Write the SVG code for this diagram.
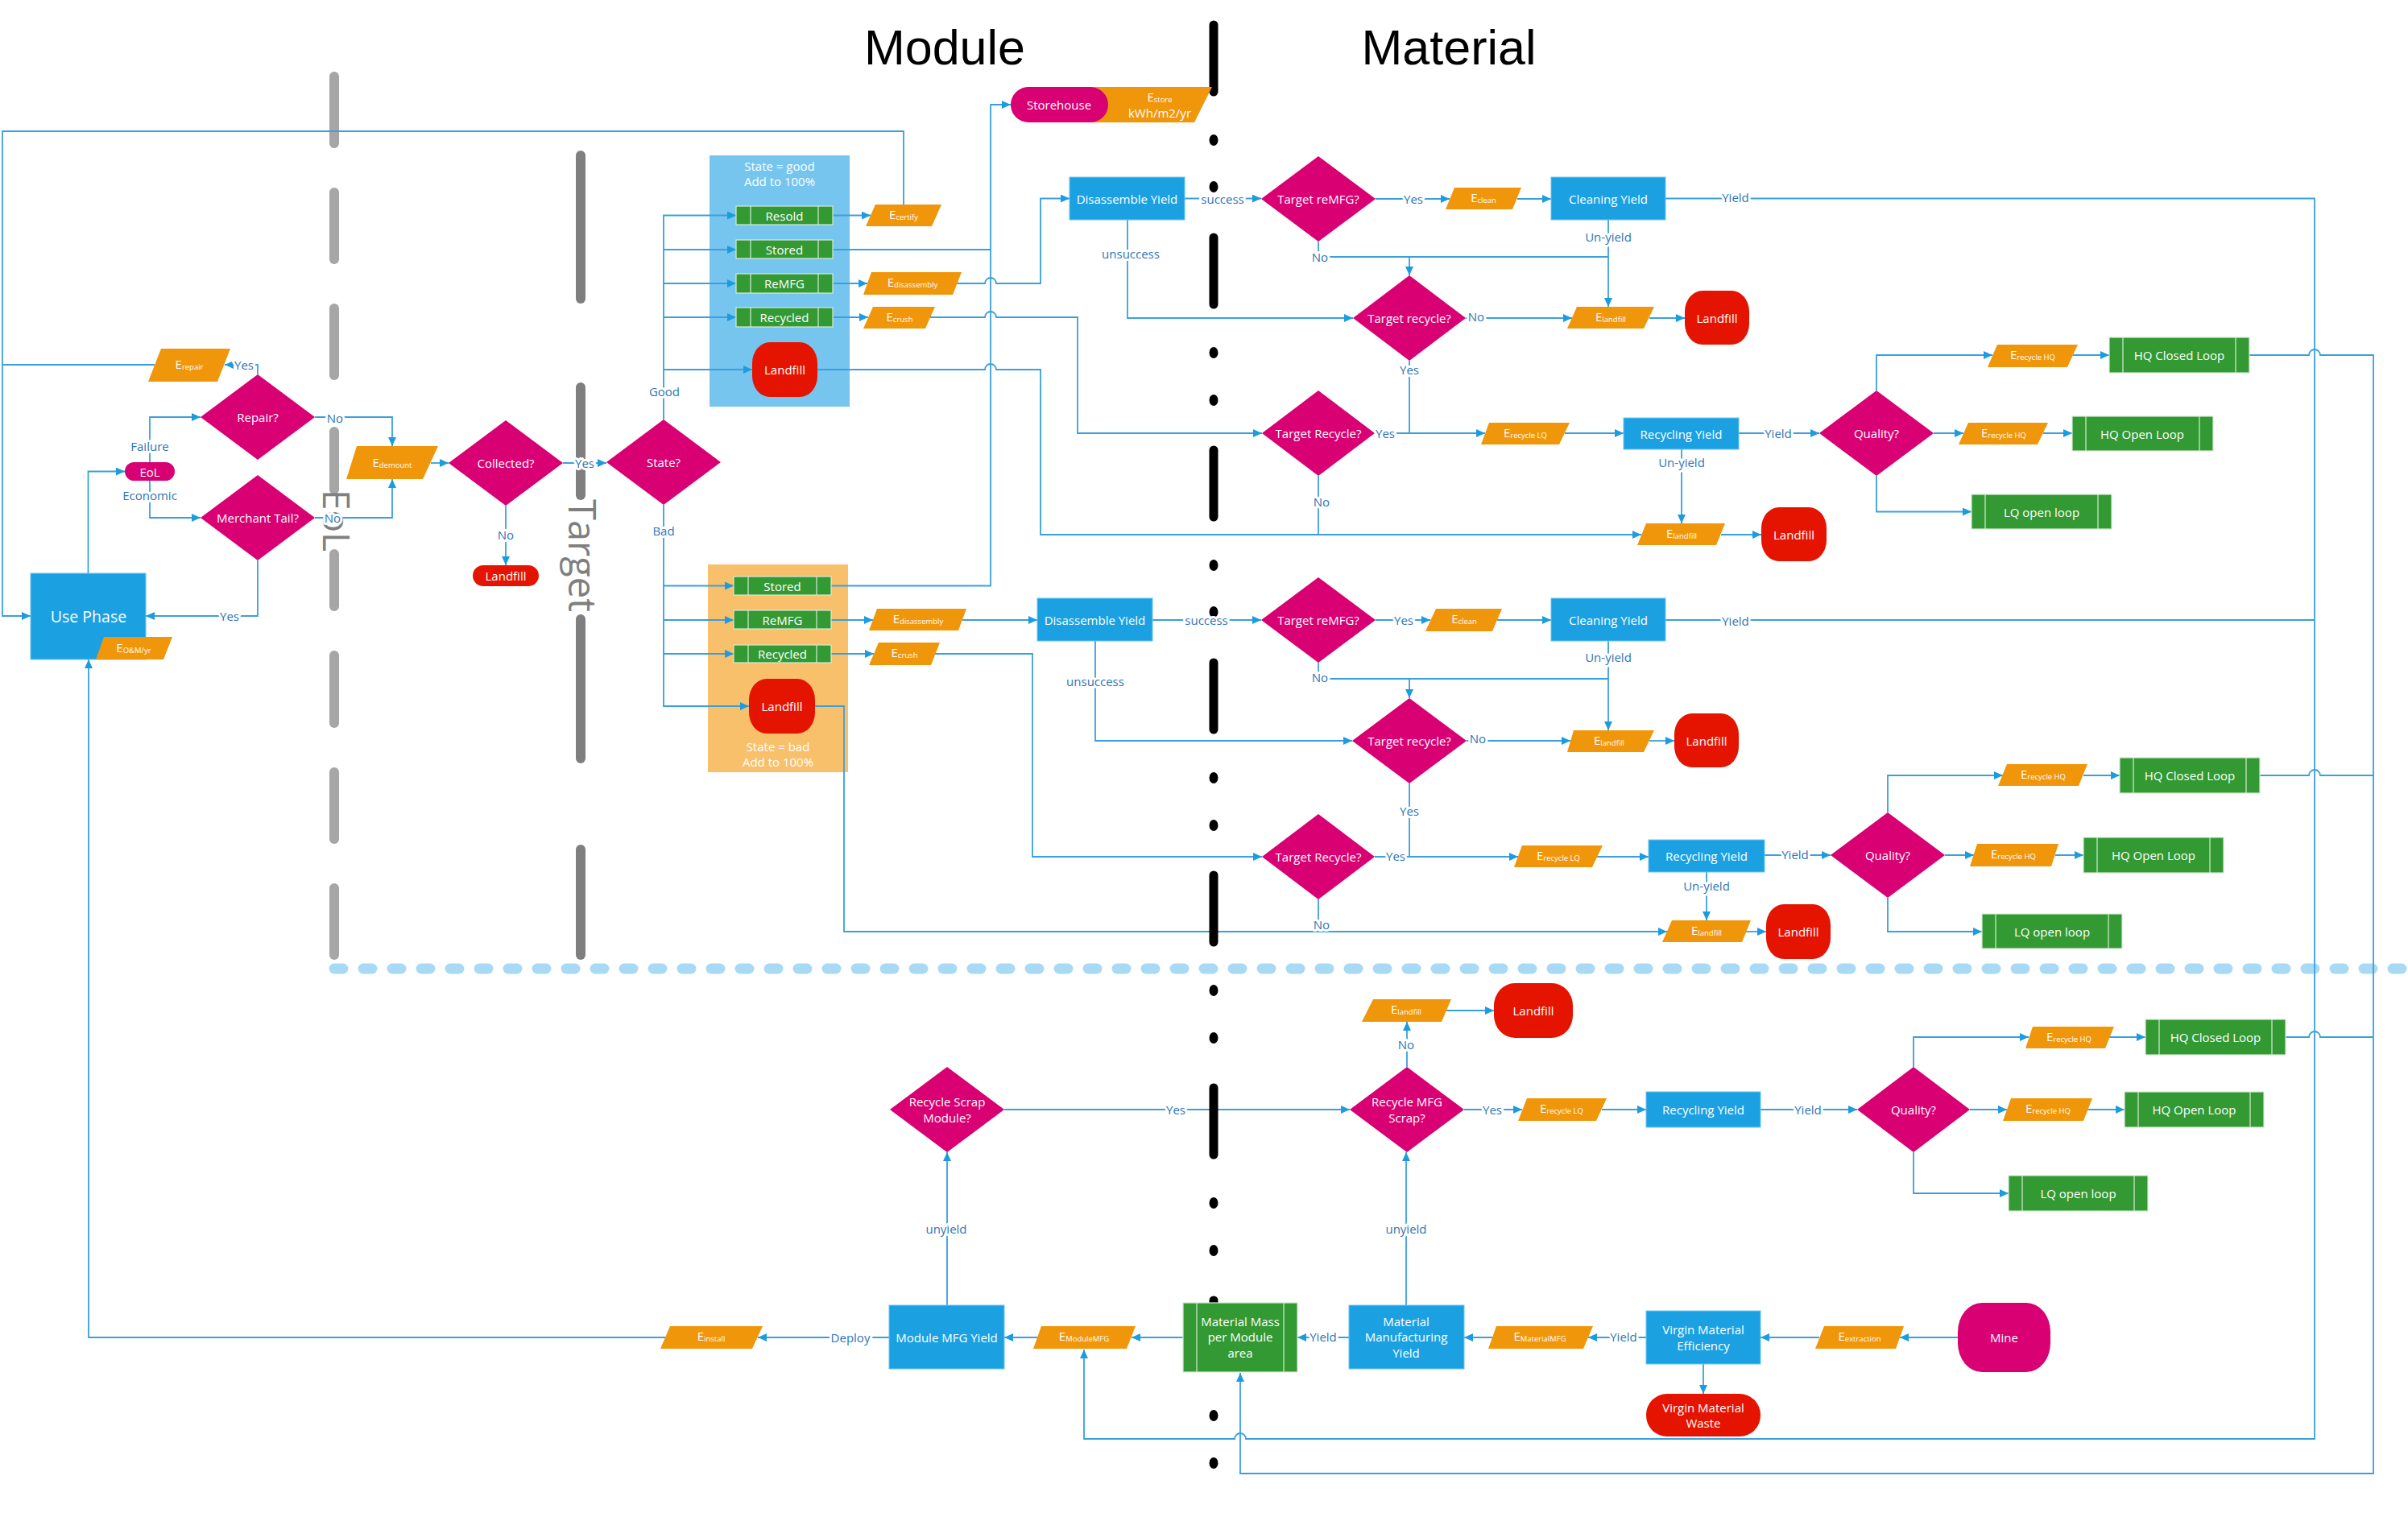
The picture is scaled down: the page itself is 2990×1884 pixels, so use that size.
<svg xmlns="http://www.w3.org/2000/svg" width="2990" height="1884" viewBox="0 0 2990 1884">
<defs>
<marker id="ah" markerWidth="11" markerHeight="10" refX="11" refY="5" orient="auto" markerUnits="userSpaceOnUse"><path d="M0,0 L11,5 L0,10 z" fill="#1b9ce0"/></marker>
<style>
.bl{fill:#1ba1e2;stroke:#6cc4ee;stroke-width:1}
.mg{fill:#d80073}
.or{fill:#f0960a}
.gr{fill:#339933;stroke:#d6ecd6;stroke-width:1.2}
.gl{stroke:#d6ecd6;stroke-width:1.2}
.rd{fill:#e51400}
.t{font-family:"Open Sans","Noto Sans",sans-serif;font-size:15px;fill:#fff;text-anchor:middle;dominant-baseline:central}
.big{font-size:19.5px}
.s{font-size:9.5px}
.lb{font-family:"Open Sans","Noto Sans",sans-serif;font-size:15px;fill:#2e75b6;text-anchor:middle;dominant-baseline:central;stroke:#fff;stroke-width:6;stroke-linejoin:round;paint-order:stroke}
.ln{fill:none;stroke:#3aa0dc;stroke-width:1.8}
.a{marker-end:url(#ah)}
.eol{stroke:#a6a6a6;stroke-width:12;stroke-linecap:round}
.tg{stroke:#7f7f7f;stroke-width:12;stroke-linecap:round}
.dv{stroke:#000;stroke-width:11;stroke-linecap:round}
.ttl{font-family:"Liberation Sans",Arial,sans-serif;font-size:61px;fill:#000;text-anchor:middle}
.rot{font-family:"Open Sans","Noto Sans",sans-serif;fill:#7f7f7f;text-anchor:middle}
</style>
</defs>
<rect width="2990" height="1884" fill="#fff"/>

<g id="titles">
<text class="ttl" x="1173" y="80">Module</text>
<text class="ttl" x="1799" y="80">Material</text>
</g>

<g id="dividers">
<line x1="415" y1="1203" x2="2990" y2="1203" stroke="#a8daf5" stroke-width="13" stroke-linecap="round" stroke-dasharray="11 25"/>
<g class="eol">
<line x1="415" y1="95" x2="415" y2="178"/><line x1="415" y1="239" x2="415" y2="322"/><line x1="415" y1="383" x2="415" y2="466"/><line x1="415" y1="536" x2="415" y2="608"/><line x1="415" y1="688" x2="415" y2="753"/><line x1="415" y1="814" x2="415" y2="898"/><line x1="415" y1="959" x2="415" y2="1042"/><line x1="415" y1="1103" x2="415" y2="1186"/>
</g>
<g class="tg">
<line x1="721" y1="193" x2="721" y2="371"/><line x1="721" y1="481" x2="721" y2="615"/><line x1="721" y1="769" x2="721" y2="942"/><line x1="721" y1="1055" x2="721" y2="1186"/>
</g>
<text class="rot" font-size="46" transform="translate(401,646.5) rotate(90)">EoL</text>
<text class="rot" font-size="47" transform="translate(706,690) rotate(90)">Target</text>
</g>

<g id="containers">
<rect x="881" y="193" width="174" height="312" fill="#75c5ef"/>
<text class="t" x="968" y="206">State = good</text>
<text class="t" x="968" y="225">Add to 100%</text>
<rect x="879" y="701" width="174" height="258" fill="#f8c06b"/>
<text class="t" x="966" y="927">State = bad</text>
<text class="t" x="966" y="946">Add to 100%</text>
</g>

<g id="connectors">
<path class="ln a" d="M109.5,712 V585.5 H155"/>
<path class="ln a" d="M186,574 V518 H249"/>
<path class="ln a" d="M186,597 V643 H249"/>
<path class="ln a" d="M320,465 V453 H279"/>
<path class="ln" d="M192,453 H3"/>
<path class="ln a" d="M1122,254 V163 H3 V765 H38"/>
<path class="ln a" d="M391,518 H487 V554"/>
<path class="ln a" d="M391,643 H487 V595"/>
<path class="ln a" d="M320,696 V765 H181"/>
<path class="ln a" d="M535,575 H557"/>
<path class="ln a" d="M699,575 H753"/>
<path class="ln a" d="M628,628 V702"/>
<path class="ln a" d="M824,521 V267.5 H914"/>
<path class="ln a" d="M824,310 H914"/>
<path class="ln a" d="M824,352 H914"/>
<path class="ln a" d="M824,394 H914"/>
<path class="ln a" d="M824,459 H934"/>
<path class="ln a" d="M824,627 V877 H930"/>
<path class="ln a" d="M824,727.5 H911"/>
<path class="ln a" d="M824,770 H911"/>
<path class="ln a" d="M824,812 H911"/>
<path class="ln a" d="M1034,267.5 H1081"/>
<path class="ln a" d="M1034,310 H1230 V130 H1255"/>
<path class="ln a" d="M1034,352 H1077"/>
<path class="ln a" d="M1188,352 H1223 a7,7 0 0 1 14,0 H1292 V246.5 H1328"/>
<path class="ln a" d="M1034,394 H1078"/>
<path class="ln a" d="M1155,394 H1223 a7,7 0 0 1 14,0 H1338 V538 H1567"/>
<path class="ln a" d="M1015,459 H1223 a7,7 0 0 1 14,0 H1292 V664 H2038"/>
<path class="ln a" d="M1471,246.5 H1566"/>
<path class="ln a" d="M1708,247 H1800"/>
<path class="ln a" d="M1884,247 H1926"/>
<path class="ln a" d="M2068,246.5 H2874 V1787 H1547 a7,7 0 0 0 -14,0 H1346 V1676"/>
<path class="ln a" d="M1637,300 V319 H1750 V342"/>
<path class="ln" d="M1750,319 H1997"/>
<path class="ln a" d="M1997,273 V381"/>
<path class="ln a" d="M1400,273 V395 H1680"/>
<path class="ln a" d="M1820,395 H1952"/>
<path class="ln a" d="M2048,395 H2092"/>
<path class="ln" d="M1750,448 V538"/>
<path class="ln a" d="M1707,538 H1844"/>
<path class="ln a" d="M1943,538 H2016"/>
<path class="ln" d="M1637,591 V664"/>
<path class="ln a" d="M2159,538 H2259"/>
<path class="ln a" d="M2330,485 V441 H2474"/>
<path class="ln a" d="M2574,441 H2619"/>
<path class="ln a" d="M2793,441 H2867 a7,7 0 0 1 14,0 H2947 V1830 H1540 V1705"/>
<path class="ln a" d="M2401,538 H2438"/>
<path class="ln a" d="M2537,538 H2573"/>
<path class="ln a" d="M2330,591 V635.5 H2448"/>
<path class="ln a" d="M2088,558 V650"/>
<path class="ln a" d="M2137,664 H2187"/>
<path class="ln a" d="M1032,770 H1084"/>
<path class="ln a" d="M1195,770 H1288"/>
<path class="ln" d="M1032,727.5 H1230 V310"/>
<path class="ln a" d="M1032,812 H1085"/>
<path class="ln a" d="M1161,812 H1282 V1064 H1567"/>
<path class="ln a" d="M1012,877 H1048 V1157 H2070"/>
<path class="ln a" d="M1431,770 H1566"/>
<path class="ln a" d="M1708,770 H1776"/>
<path class="ln a" d="M1859,770 H1926"/>
<path class="ln" d="M2068,770 H2874"/>
<path class="ln a" d="M1637,823 V843 H1750 V867"/>
<path class="ln" d="M1750,843 H1997"/>
<path class="ln a" d="M1997,796 V907"/>
<path class="ln a" d="M1360,796 V920 H1679"/>
<path class="ln a" d="M1821,920 H1950"/>
<path class="ln a" d="M2048,920 H2079"/>
<path class="ln" d="M1750,973 V1064"/>
<path class="ln a" d="M1707,1064 H1885"/>
<path class="ln a" d="M1983,1064 H2047"/>
<path class="ln" d="M1637,1117 V1157"/>
<path class="ln a" d="M2191,1062 H2273"/>
<path class="ln a" d="M2344,1009 V963 H2487"/>
<path class="ln a" d="M2587,963 H2632"/>
<path class="ln" d="M2806,963 H2867 a7,7 0 0 1 14,0 H2947"/>
<path class="ln a" d="M2415,1062 H2451"/>
<path class="ln a" d="M2552,1062 H2587"/>
<path class="ln a" d="M2344,1115 V1157 H2461"/>
<path class="ln a" d="M2119,1083 V1143"/>
<path class="ln a" d="M2168,1157 H2193"/>
<path class="ln a" d="M1247,1378 H1676"/>
<path class="ln a" d="M1747,1325 V1269"/>
<path class="ln a" d="M1796,1255 H1855"/>
<path class="ln a" d="M1818,1378 H1890"/>
<path class="ln a" d="M1989,1378 H2044"/>
<path class="ln a" d="M2186,1378 H2306"/>
<path class="ln a" d="M2376,1325 V1288 H2519"/>
<path class="ln a" d="M2619,1288 H2664"/>
<path class="ln" d="M2838,1288 H2867 a7,7 0 0 1 14,0 H2947"/>
<path class="ln a" d="M2446,1378 H2492"/>
<path class="ln a" d="M2592,1378 H2638"/>
<path class="ln a" d="M2376,1431 V1482 H2494"/>
<path class="ln a" d="M1176,1621 V1431"/>
<path class="ln a" d="M1746,1621 V1431"/>
<path class="ln a" d="M1104,1661 H941"/>
<path class="ln a" d="M826,1661 H110 V819"/>
<path class="ln a" d="M1288,1661 H1247"/>
<path class="ln a" d="M1469,1661 H1405"/>
<path class="ln a" d="M1675,1661 H1611"/>
<path class="ln a" d="M1853,1661 H1818"/>
<path class="ln a" d="M2044,1661 H1972"/>
<path class="ln a" d="M2259,1661 H2186"/>
<path class="ln a" d="M2431,1661 H2359"/>
<path class="ln a" d="M2115,1694 V1731"/>
</g>

<g id="module-material-divider">
<g class="dv">
<line x1="1507" y1="31" x2="1507" y2="114"/><line x1="1507" y1="295" x2="1507" y2="378"/><line x1="1507" y1="559" x2="1507" y2="642"/><line x1="1507" y1="823" x2="1507" y2="906"/><line x1="1507" y1="1087" x2="1507" y2="1170"/><line x1="1507" y1="1351" x2="1507" y2="1434"/><line x1="1507" y1="1615" x2="1507" y2="1698"/>
</g>
<g fill="#000">
<ellipse cx="1507" cy="174" rx="5.5" ry="7"/><ellipse cx="1507" cy="232" rx="5.5" ry="7"/>
<ellipse cx="1507" cy="438" rx="5.5" ry="7"/><ellipse cx="1507" cy="497" rx="5.5" ry="7"/>
<ellipse cx="1507" cy="702" rx="5.5" ry="7"/><ellipse cx="1507" cy="760" rx="5.5" ry="7"/>
<ellipse cx="1507" cy="966" rx="5.5" ry="7"/><ellipse cx="1507" cy="1025" rx="5.5" ry="7"/>
<ellipse cx="1507" cy="1230" rx="5.5" ry="7"/><ellipse cx="1507" cy="1289" rx="5.5" ry="7"/>
<ellipse cx="1507" cy="1494" rx="5.5" ry="7"/><ellipse cx="1507" cy="1553" rx="5.5" ry="7"/>
<ellipse cx="1507" cy="1758" rx="5.5" ry="7"/><ellipse cx="1507" cy="1817" rx="5.5" ry="7"/>
</g>
</g>

<!-- Module (EoL) side -->
<g id="use-phase"><rect class="bl" x="38" y="712" width="143" height="107"/><text class="t big" x="110" y="765">Use Phase</text></g>
<g id="e-om"><polygon class="or" points="129,791 214,791 203,819 119,819"/><text class="t" x="166" y="804">E<tspan class="s" dy="3">O&amp;M/yr</tspan></text></g>
<g id="eol"><rect class="mg" x="155" y="574" width="62" height="23" rx="11.5"/><text class="t" x="186" y="585.5">EoL</text></g>
<g id="repair"><polygon class="mg" points="320,465 391,518 320,571 249,518"/><text class="t" x="320" y="518">Repair?</text></g>
<g id="merchant-tail"><polygon class="mg" points="320,590 391,643 320,696 249,643"/><text class="t" x="320" y="643">Merchant Tail?</text></g>
<g id="e-repair"><polygon class="or" points="200,433 286,433 270,474 184,474"/><text class="t" x="235" y="452">E<tspan class="s" dy="3">repair</tspan></text></g>
<g id="e-demount"><polygon class="or" points="443,554 544,554 525,595 430,595"/><text class="t" x="487" y="574">E<tspan class="s" dy="3">demount</tspan></text></g>
<g id="collected"><polygon class="mg" points="628,522 699,575 628,628 557,575"/><text class="t" x="628" y="575">Collected?</text></g>
<g id="landfill-collect"><rect class="rd" x="587" y="702" width="82" height="26" rx="13"/><text class="t" x="628" y="715">Landfill</text></g>
<g id="state"><polygon class="mg" points="824,521 895,574 824,627 753,574"/><text class="t" x="824" y="574">State?</text></g>

<g id="resold"><rect class="gr" x="914" y="256" width="120" height="23"/><line class="gl" x1="932" y1="256" x2="932" y2="279"/><line class="gl" x1="1016" y1="256" x2="1016" y2="279"/><text class="t" x="974" y="267.5">Resold</text></g>
<g id="stored-good"><rect class="gr" x="914" y="298" width="120" height="23"/><line class="gl" x1="932" y1="298" x2="932" y2="321"/><line class="gl" x1="1016" y1="298" x2="1016" y2="321"/><text class="t" x="974" y="309.5">Stored</text></g>
<g id="remfg-good"><rect class="gr" x="914" y="340" width="120" height="24"/><line class="gl" x1="932" y1="340" x2="932" y2="364"/><line class="gl" x1="1016" y1="340" x2="1016" y2="364"/><text class="t" x="974" y="352">ReMFG</text></g>
<g id="recycled-good"><rect class="gr" x="914" y="382" width="120" height="24"/><line class="gl" x1="932" y1="382" x2="932" y2="406"/><line class="gl" x1="1016" y1="382" x2="1016" y2="406"/><text class="t" x="974" y="394">Recycled</text></g>
<g id="landfill-good"><rect class="rd" x="934" y="425" width="81" height="68" rx="22" ry="26"/><text class="t" x="974.5" y="459">Landfill</text></g>
<g id="e-certify"><polygon class="or" points="1087,254 1169,254 1157,281 1075,281"/><text class="t" x="1122" y="266">E<tspan class="s" dy="3">certify</tspan></text></g>
<g id="e-disassembly-good"><polygon class="or" points="1082,338 1194,338 1183,366 1072,366"/><text class="t" x="1133" y="350">E<tspan class="s" dy="3">disassembly</tspan></text></g>
<g id="e-crush-good"><polygon class="or" points="1084,381 1161,381 1149,408 1072,408"/><text class="t" x="1117" y="393">E<tspan class="s" dy="3">crush</tspan></text></g>
<g id="storehouse"><polygon class="or" points="1330,108 1505,108 1483,152 1330,152"/><rect class="mg" x="1255" y="108" width="121" height="44" rx="22"/><text class="t" x="1315" y="130">Storehouse</text><text class="t" x="1440" y="120">E<tspan class="s" dy="3">store</tspan></text><text class="t" x="1440" y="140">kWh/m2/yr</text></g>

<g id="stored-bad"><rect class="gr" x="911" y="716" width="121" height="23"/><line class="gl" x1="929" y1="716" x2="929" y2="739"/><line class="gl" x1="1014" y1="716" x2="1014" y2="739"/><text class="t" x="971.5" y="727.5">Stored</text></g>
<g id="remfg-bad"><rect class="gr" x="911" y="758" width="121" height="23"/><line class="gl" x1="929" y1="758" x2="929" y2="781"/><line class="gl" x1="1014" y1="758" x2="1014" y2="781"/><text class="t" x="971.5" y="769.5">ReMFG</text></g>
<g id="recycled-bad"><rect class="gr" x="911" y="801" width="121" height="22"/><line class="gl" x1="929" y1="801" x2="929" y2="823"/><line class="gl" x1="1014" y1="801" x2="1014" y2="823"/><text class="t" x="971.5" y="812">Recycled</text></g>
<g id="landfill-bad"><rect class="rd" x="930" y="843" width="82" height="68" rx="22" ry="26"/><text class="t" x="971" y="877">Landfill</text></g>
<g id="e-disassembly-bad"><polygon class="or" points="1089,756 1200,756 1190,783 1079,783"/><text class="t" x="1140" y="768">E<tspan class="s" dy="3">disassembly</tspan></text></g>
<g id="e-crush-bad"><polygon class="or" points="1091,798 1167,798 1156,826 1079,826"/><text class="t" x="1123" y="810">E<tspan class="s" dy="3">crush</tspan></text></g>

<!-- Material side, good branch -->
<g id="disassemble-yield-1"><rect class="bl" x="1328" y="220" width="143" height="53"/><text class="t" x="1399.5" y="246.5">Disassemble Yield</text></g>
<g id="target-remfg-1"><polygon class="mg" points="1637,194 1708,247 1637,300 1566,247"/><text class="t" x="1637" y="247">Target reMFG?</text></g>
<g id="e-clean-1"><polygon class="or" points="1806,233 1889,233 1878,260 1795,260"/><text class="t" x="1842" y="245">E<tspan class="s" dy="3">clean</tspan></text></g>
<g id="cleaning-yield-1"><rect class="bl" x="1926" y="220" width="142" height="53"/><text class="t" x="1997" y="246.5">Cleaning Yield</text></g>
<g id="target-recycle-1"><polygon class="mg" points="1750,342 1820,395 1750,448 1680,395"/><text class="t" x="1750" y="395">Target recycle?</text></g>
<g id="e-landfill-1"><polygon class="or" points="1958,381 2054,381 2041,408 1946,408"/><text class="t" x="2000" y="393">E<tspan class="s" dy="3">landfill</tspan></text></g>
<g id="landfill-1"><rect class="rd" x="2092" y="361" width="80" height="67" rx="22" ry="26"/><text class="t" x="2132" y="395">Landfill</text></g>
<g id="target-recycle-1b"><polygon class="mg" points="1637,485 1707,538 1637,591 1567,538"/><text class="t" x="1637" y="538">Target Recycle?</text></g>
<g id="e-recycle-lq-1"><polygon class="or" points="1849,525 1949,525 1936,552 1839,552"/><text class="t" x="1894" y="537">E<tspan class="s" dy="3">recycle LQ</tspan></text></g>
<g id="recycling-yield-1"><rect class="bl" x="2016" y="519" width="143" height="39"/><text class="t" x="2087.5" y="538.5">Recycling Yield</text></g>
<g id="quality-1"><polygon class="mg" points="2330,485 2401,538 2330,591 2259,538"/><text class="t" x="2330" y="538">Quality?</text></g>
<g id="e-recycle-hq-1"><polygon class="or" points="2480,428 2580,428 2567,456 2468,456"/><text class="t" x="2524" y="440">E<tspan class="s" dy="3">recycle HQ</tspan></text></g>
<g id="hq-closed-1"><rect class="gr" x="2619" y="419" width="174" height="44"/><line class="gl" x1="2636" y1="419" x2="2636" y2="463"/><line class="gl" x1="2776" y1="419" x2="2776" y2="463"/><text class="t" x="2706" y="441">HQ Closed Loop</text></g>
<g id="e-recycle-hq-2"><polygon class="or" points="2444,525 2543,525 2530,552 2432,552"/><text class="t" x="2488" y="537">E<tspan class="s" dy="3">recycle HQ</tspan></text></g>
<g id="hq-open-1"><rect class="gr" x="2573" y="517" width="175" height="43"/><line class="gl" x1="2590" y1="517" x2="2590" y2="560"/><line class="gl" x1="2731" y1="517" x2="2731" y2="560"/><text class="t" x="2660" y="538.5">HQ Open Loop</text></g>
<g id="lq-open-1"><rect class="gr" x="2448" y="614" width="174" height="43"/><line class="gl" x1="2465" y1="614" x2="2465" y2="657"/><line class="gl" x1="2605" y1="614" x2="2605" y2="657"/><text class="t" x="2535" y="635.5">LQ open loop</text></g>
<g id="e-landfill-2"><polygon class="or" points="2044,650 2142,650 2131,677 2033,677"/><text class="t" x="2088" y="662">E<tspan class="s" dy="3">landfill</tspan></text></g>
<g id="landfill-2"><rect class="rd" x="2187" y="630" width="81" height="67" rx="22" ry="26"/><text class="t" x="2227.5" y="664">Landfill</text></g>

<!-- Material side, bad branch -->
<g id="disassemble-yield-2"><rect class="bl" x="1288" y="743" width="143" height="53"/><text class="t" x="1359.5" y="769.5">Disassemble Yield</text></g>
<g id="target-remfg-2"><polygon class="mg" points="1637,717 1708,770 1637,823 1566,770"/><text class="t" x="1637" y="770">Target reMFG?</text></g>
<g id="e-clean-2"><polygon class="or" points="1783,756 1865,756 1853,784 1770,784"/><text class="t" x="1818" y="768">E<tspan class="s" dy="3">clean</tspan></text></g>
<g id="cleaning-yield-2"><rect class="bl" x="1926" y="743" width="142" height="53"/><text class="t" x="1997" y="769.5">Cleaning Yield</text></g>
<g id="target-recycle-2"><polygon class="mg" points="1750,867 1821,920 1750,973 1679,920"/><text class="t" x="1750" y="920">Target recycle?</text></g>
<g id="e-landfill-3"><polygon class="or" points="1954,907 2054,907 2041,934 1946,934"/><text class="t" x="1998" y="919">E<tspan class="s" dy="3">landfill</tspan></text></g>
<g id="landfill-3"><rect class="rd" x="2079" y="886" width="80" height="67" rx="22" ry="26"/><text class="t" x="2119" y="920">Landfill</text></g>
<g id="target-recycle-2b"><polygon class="mg" points="1637,1011 1707,1064 1637,1117 1567,1064"/><text class="t" x="1637" y="1064">Target Recycle?</text></g>
<g id="e-recycle-lq-2"><polygon class="or" points="1890,1050 1990,1050 1977,1077 1880,1077"/><text class="t" x="1935" y="1062">E<tspan class="s" dy="3">recycle LQ</tspan></text></g>
<g id="recycling-yield-2"><rect class="bl" x="2047" y="1043" width="144" height="40"/><text class="t" x="2119" y="1063">Recycling Yield</text></g>
<g id="quality-2"><polygon class="mg" points="2344,1009 2415,1062 2344,1115 2273,1062"/><text class="t" x="2344" y="1062">Quality?</text></g>
<g id="e-recycle-hq-3"><polygon class="or" points="2492,949 2592,949 2581,976 2481,976"/><text class="t" x="2537" y="961">E<tspan class="s" dy="3">recycle HQ</tspan></text></g>
<g id="hq-closed-2"><rect class="gr" x="2632" y="941" width="174" height="44"/><line class="gl" x1="2649" y1="941" x2="2649" y2="985"/><line class="gl" x1="2789" y1="941" x2="2789" y2="985"/><text class="t" x="2719" y="963">HQ Closed Loop</text></g>
<g id="e-recycle-hq-4"><polygon class="or" points="2455,1048 2556,1048 2547,1076 2446,1076"/><text class="t" x="2500" y="1060">E<tspan class="s" dy="3">recycle HQ</tspan></text></g>
<g id="hq-open-2"><rect class="gr" x="2587" y="1040" width="174" height="44"/><line class="gl" x1="2604" y1="1040" x2="2604" y2="1084"/><line class="gl" x1="2744" y1="1040" x2="2744" y2="1084"/><text class="t" x="2674" y="1062">HQ Open Loop</text></g>
<g id="lq-open-2"><rect class="gr" x="2461" y="1135" width="174" height="43"/><line class="gl" x1="2478" y1="1135" x2="2478" y2="1178"/><line class="gl" x1="2618" y1="1135" x2="2618" y2="1178"/><text class="t" x="2548" y="1156.5">LQ open loop</text></g>
<g id="e-landfill-5"><polygon class="or" points="2076,1143 2174,1143 2163,1170 2064,1170"/><text class="t" x="2119" y="1155">E<tspan class="s" dy="3">landfill</tspan></text></g>
<g id="landfill-5"><rect class="rd" x="2193" y="1123" width="80" height="68" rx="22" ry="26"/><text class="t" x="2233" y="1157">Landfill</text></g>

<!-- Manufacturing section -->
<g id="recycle-scrap-module"><polygon class="mg" points="1176,1325 1247,1378 1176,1431 1105,1378"/><text class="t" x="1176" y="1368">Recycle Scrap</text><text class="t" x="1176" y="1388">Module?</text></g>
<g id="recycle-mfg-scrap"><polygon class="mg" points="1747,1325 1818,1378 1747,1431 1676,1378"/><text class="t" x="1747" y="1368">Recycle MFG</text><text class="t" x="1747" y="1388">Scrap?</text></g>
<g id="e-landfill-4"><polygon class="or" points="1705,1241 1802,1241 1790,1269 1691,1269"/><text class="t" x="1746" y="1253">E<tspan class="s" dy="3">landfill</tspan></text></g>
<g id="landfill-4"><rect class="rd" x="1855" y="1221" width="98" height="68" rx="26" ry="28"/><text class="t" x="1904" y="1255">Landfill</text></g>
<g id="e-recycle-lq-3"><polygon class="or" points="1896,1364 1995,1364 1982,1392 1885,1392"/><text class="t" x="1939" y="1376">E<tspan class="s" dy="3">recycle LQ</tspan></text></g>
<g id="recycling-yield-3"><rect class="bl" x="2044" y="1356" width="142" height="44"/><text class="t" x="2115" y="1378">Recycling Yield</text></g>
<g id="quality-3"><polygon class="mg" points="2376,1325 2446,1378 2376,1431 2306,1378"/><text class="t" x="2376" y="1378">Quality?</text></g>
<g id="e-recycle-hq-5"><polygon class="or" points="2524,1275 2625,1275 2614,1302 2515,1302"/><text class="t" x="2569" y="1287">E<tspan class="s" dy="3">recycle HQ</tspan></text></g>
<g id="hq-closed-3"><rect class="gr" x="2664" y="1266" width="174" height="44"/><line class="gl" x1="2681" y1="1266" x2="2681" y2="1310"/><line class="gl" x1="2821" y1="1266" x2="2821" y2="1310"/><text class="t" x="2751" y="1288">HQ Closed Loop</text></g>
<g id="e-recycle-hq-6"><polygon class="or" points="2497,1364 2598,1364 2587,1392 2487,1392"/><text class="t" x="2543" y="1376">E<tspan class="s" dy="3">recycle HQ</tspan></text></g>
<g id="hq-open-3"><rect class="gr" x="2638" y="1356" width="173" height="44"/><line class="gl" x1="2655" y1="1356" x2="2655" y2="1400"/><line class="gl" x1="2794" y1="1356" x2="2794" y2="1400"/><text class="t" x="2724.5" y="1378">HQ Open Loop</text></g>
<g id="lq-open-3"><rect class="gr" x="2494" y="1460" width="173" height="44"/><line class="gl" x1="2511" y1="1460" x2="2511" y2="1504"/><line class="gl" x1="2650" y1="1460" x2="2650" y2="1504"/><text class="t" x="2580.5" y="1482">LQ open loop</text></g>
<g id="e-install"><polygon class="or" points="832,1647 947,1647 934,1675 820,1675"/><text class="t" x="883" y="1659">E<tspan class="s" dy="3">install</tspan></text></g>
<g id="module-mfg-yield"><rect class="bl" x="1104" y="1621" width="143" height="79"/><text class="t" x="1175.5" y="1660.5">Module MFG Yield</text></g>
<g id="e-modulemfg"><polygon class="or" points="1293,1647 1410,1647 1399,1675 1283,1675"/><text class="t" x="1346" y="1659">E<tspan class="s" dy="3">ModuleMFG</tspan></text></g>
<g id="material-mass"><rect class="gr" x="1469" y="1618" width="142" height="86"/><line class="gl" x1="1486" y1="1618" x2="1486" y2="1704"/><line class="gl" x1="1594" y1="1618" x2="1594" y2="1704"/><text class="t" x="1540" y="1641">Material Mass</text><text class="t" x="1540" y="1660">per Module</text><text class="t" x="1540" y="1680">area</text></g>
<g id="material-mfg-yield"><rect class="bl" x="1675" y="1621" width="143" height="79"/><text class="t" x="1746" y="1641">Material</text><text class="t" x="1746" y="1660">Manufacturing</text><text class="t" x="1746" y="1680">Yield</text></g>
<g id="e-materialmfg"><polygon class="or" points="1858,1647 1978,1647 1966,1675 1848,1675"/><text class="t" x="1912" y="1659">E<tspan class="s" dy="3">MaterialMFG</tspan></text></g>
<g id="virgin-material-efficiency"><rect class="bl" x="2044" y="1628" width="142" height="66"/><text class="t" x="2115" y="1651">Virgin Material</text><text class="t" x="2115" y="1671">Efficiency</text></g>
<g id="virgin-material-waste"><rect class="rd" x="2044" y="1731" width="142" height="53" rx="26"/><text class="t" x="2115" y="1748">Virgin Material</text><text class="t" x="2115" y="1767">Waste</text></g>
<g id="e-extraction"><polygon class="or" points="2265,1647 2364,1647 2354,1675 2254,1675"/><text class="t" x="2309" y="1659">E<tspan class="s" dy="3">extraction</tspan></text></g>
<g id="mine"><rect class="mg" x="2431" y="1618" width="115" height="86" rx="30" ry="36"/><text class="t" x="2488.5" y="1661">Mine</text></g>

<g id="connector-labels">
<text class="lb" x="186" y="554">Failure</text>
<text class="lb" x="186" y="615">Economic</text>
<text class="lb" x="303" y="453">Yes</text>
<text class="lb" x="416" y="519">No</text>
<text class="lb" x="413" y="643">No</text>
<text class="lb" x="285" y="765">Yes</text>
<text class="lb" x="726" y="575">Yes</text>
<text class="lb" x="628" y="664">No</text>
<text class="lb" x="825" y="486">Good</text>
<text class="lb" x="824" y="659">Bad</text>
<text class="lb" x="1518" y="247">success</text>
<text class="lb" x="1404" y="315">unsuccess</text>
<text class="lb" x="1755" y="247">Yes</text>
<text class="lb" x="1639" y="319">No</text>
<text class="lb" x="1997" y="294">Un-yield</text>
<text class="lb" x="1833" y="393">No</text>
<text class="lb" x="1750" y="459">Yes</text>
<text class="lb" x="1720" y="538">Yes</text>
<text class="lb" x="1641" y="623">No</text>
<text class="lb" x="2155" y="245">Yield</text>
<text class="lb" x="2208" y="538">Yield</text>
<text class="lb" x="2088" y="574">Un-yield</text>
<text class="lb" x="1498" y="770">success</text>
<text class="lb" x="1360" y="846">unsuccess</text>
<text class="lb" x="1743" y="770">Yes</text>
<text class="lb" x="1639" y="841">No</text>
<text class="lb" x="1997" y="816">Un-yield</text>
<text class="lb" x="1835" y="917">No</text>
<text class="lb" x="1750" y="1007">Yes</text>
<text class="lb" x="1733" y="1063">Yes</text>
<text class="lb" x="1641" y="1148">No</text>
<text class="lb" x="2155" y="771">Yield</text>
<text class="lb" x="2229" y="1061">Yield</text>
<text class="lb" x="2119" y="1100">Un-yield</text>
<text class="lb" x="1460" y="1378">Yes</text>
<text class="lb" x="1746" y="1297">No</text>
<text class="lb" x="1853" y="1378">Yes</text>
<text class="lb" x="2245" y="1378">Yield</text>
<text class="lb" x="1175" y="1526">unyield</text>
<text class="lb" x="1746" y="1526">unyield</text>
<text class="lb" x="1056" y="1661">Deploy</text>
<text class="lb" x="1643" y="1660">Yield</text>
<text class="lb" x="2016" y="1660">Yield</text>
</g>
</svg>
